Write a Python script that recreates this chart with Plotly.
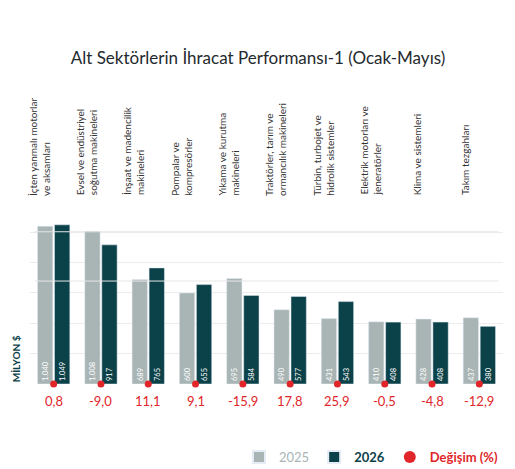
import plotly.graph_objects as go

# Veriler
kategoriler = [
    "İçten yanmalı motorlar<br>ve aksamları",
    "Evsel ve endüstriyel<br>soğutma makineleri",
    "İnşaat ve madencilik<br>makineleri",
    "Pompalar ve<br>kompresörler",
    "Yıkama ve kurutma<br>makineleri",
    "Traktörler, tarım ve<br>ormancılık makineleri",
    "Türbin, turbojet ve<br>hidrolik sistemler",
    "Elektrik motorları ve<br>jeneratörler",
    "Klima ve sistemleri",
    "Takım tezgahları",
]
deger_2025 = [1040, 1008, 689, 600, 695, 490, 431, 410, 428, 437]
deger_2026 = [1049, 917, 765, 655, 584, 577, 543, 408, 408, 380]
degisim = ["0,8", "-9,0", "11,1", "9,1", "-15,9", "17,8", "25,9", "-0,5", "-4,8", "-12,9"]

GRI = "#a9b5b5"
KOYU = "#0b4148"
KIRMIZI = "#e0262a"
FONT = "Lato"

def fmt(v):
    return f"{v:,}".replace(",", ".")

x = list(range(len(kategoriler)))

fig = go.Figure()
fig.add_trace(go.Bar(
    x=x, y=deger_2025, name=f"<span style='color:{GRI}'>2025</span>",
    marker_color=GRI, text=[fmt(v) for v in deger_2025],
    textposition="inside", insidetextanchor="start", textangle=-90,
    textfont=dict(color="white", size=12, family=FONT),
))
fig.add_trace(go.Bar(
    x=x, y=deger_2026, name=f"<b style='color:{KOYU}'>2026</b>",
    marker_color=KOYU, text=[fmt(v) for v in deger_2026],
    textposition="inside", insidetextanchor="start", textangle=-90,
    textfont=dict(color="white", size=12, family=FONT),
))
fig.add_trace(go.Scatter(
    x=x, y=[0] * len(x), mode="markers", cliponaxis=False,
    name=f"<b style='color:{KIRMIZI}'>Değişim (%)</b>",
    marker=dict(color=KIRMIZI, size=7),
))

# Değişim etiketleri ve kategori başlıkları
for i in x:
    fig.add_annotation(x=i, y=0, yref="y", text=degisim[i], showarrow=False,
                       yshift=-17, font=dict(color=KIRMIZI, size=13, family=FONT))
    fig.add_annotation(x=i - 0.3, y=1.06, yref="paper", text=kategoriler[i],
                       textangle=-90, showarrow=False, yanchor="bottom",
                       xanchor="center", align="left",
                       font=dict(color="#333", size=10, family=FONT))

fig.add_annotation(x=-0.03, xref="paper", y=0, yref="paper", text="<b>MİLYON $</b>",
                   textangle=-90, showarrow=False, yanchor="bottom", xanchor="center",
                   font=dict(color=KOYU, size=10, family=FONT))

# Ayırıcı çizgiler
for yy in [0.865, 0.585]:
    fig.add_shape(type="line", xref="paper", yref="paper", x0=0.01, x1=0.99,
                  y0=yy, y1=yy, line=dict(color="#e6e6e6", width=1))

fig.update_layout(
    title=dict(text="Alt Sektörlerin İhracat Performansı-1 (Ocak-Mayıs)",
               x=0.5, y=0.905, font=dict(size=17, color="#1f2a2e", family=FONT)),
    width=500, height=469,
    margin=dict(l=22, r=5, t=200, b=80),
    plot_bgcolor="white", paper_bgcolor="white",
    barmode="group", bargap=0.28, bargroupgap=0.1,
    xaxis=dict(showticklabels=False, showgrid=False, zeroline=False,
               range=[-0.5, 9.5]),
    yaxis=dict(range=[0, 1160], dtick=200, showticklabels=False,
               gridcolor="#ececec", zeroline=False),
    legend=dict(orientation="h", x=1, xanchor="right", y=-0.33, yanchor="top",
                font=dict(size=13, family=FONT), itemsizing="constant"),
)

fig.write_html("out.html")
